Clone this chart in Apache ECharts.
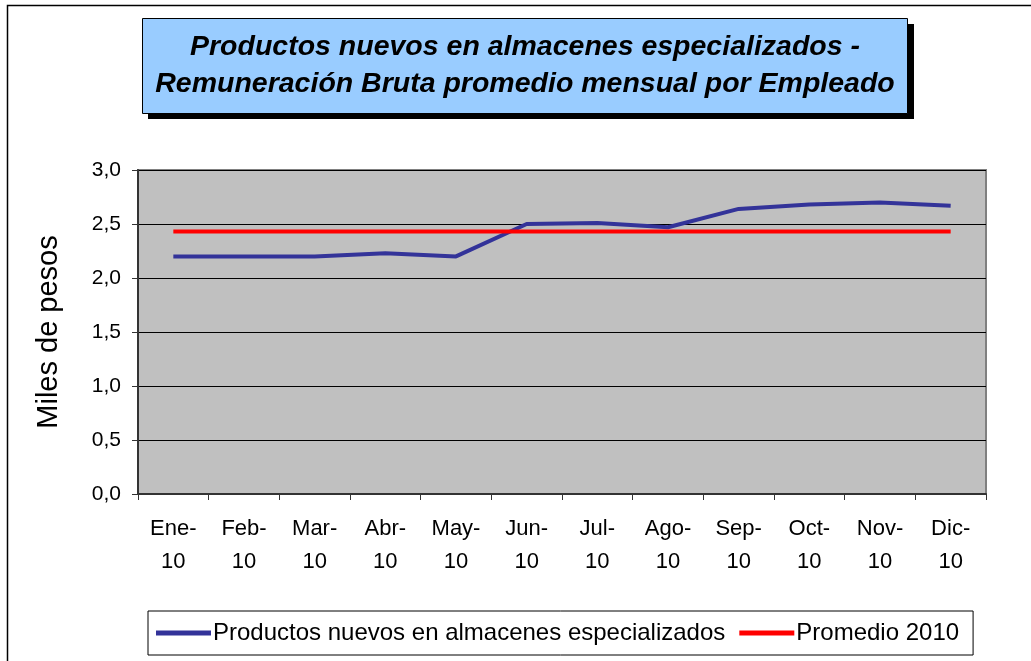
<!DOCTYPE html>
<html>
<head>
<meta charset="utf-8">
<script src="https://cdn.jsdelivr.net/npm/echarts@6/dist/echarts.min.js"></script>
<style>
  html, body { margin: 0; padding: 0; background: #fff; overflow: hidden; }
  #chart { width: 1031px; height: 661px; }
</style>
</head>
<body>
<div id="chart"></div>
<script>
// month labels (two lines, as in the original sheet)
const months = ['Ene-\n10', 'Feb-\n10', 'Mar-\n10', 'Abr-\n10', 'May-\n10', 'Jun-\n10',
  'Jul-\n10', 'Ago-\n10', 'Sep-\n10', 'Oct-\n10', 'Nov-\n10', 'Dic-\n10'];

// miles de pesos
const remuneracion = [2.20, 2.20, 2.20, 2.23, 2.20, 2.50, 2.51, 2.47, 2.64, 2.68, 2.70, 2.67];
const promedio2010 = [2.43, 2.43, 2.43, 2.43, 2.43, 2.43, 2.43, 2.43, 2.43, 2.43, 2.43, 2.43];

const seriesNames = ['Productos nuevos en almacenes especializados', 'Promedio 2010'];
const titleLines = ['Productos nuevos en almacenes especializados -',
  'Remuneración Bruta promedio mensual por Empleado'];

const font = '"Liberation Sans", Arial, sans-serif';
const chart = echarts.init(document.getElementById('chart'));

const option = {
  backgroundColor: '#fff',
  animation: false,
  textStyle: { fontFamily: font },
  graphic: [
    // outer frame: only its top and left edges fall inside the picture
    { type: 'polyline', shape: { points: [[7.5, 661], [7.5, 5.5], [1031, 5.5]] },
      style: { fill: 'none', stroke: '#000', lineWidth: 1.5 }, silent: true },
    // title shadow + box
    { type: 'rect', shape: { x: 148, y: 24, width: 766, height: 95 },
      style: { fill: '#000' }, silent: true },
    { type: 'rect', shape: { x: 142.5, y: 18.5, width: 765, height: 95 },
      style: { fill: '#99CCFF', stroke: '#000', lineWidth: 1 }, silent: true },
    { type: 'text', x: 525, y: 66, silent: true,
      style: { text: titleLines.join('\n'), align: 'center', verticalAlign: 'middle',
        font: 'italic bold 28.5px ' + font, lineHeight: 37, fill: '#000' } }
  ],
  grid: {
    left: 138, top: 170, right: 45, bottom: 167,
    show: true, backgroundColor: '#C0C0C0', borderColor: '#808080', borderWidth: 2
  },
  legend: {
    left: 148, top: 611,
    data: seriesNames.map(n => ({ name: n, icon: 'rect' })),
    backgroundColor: '#fff',
    borderColor: '#000', borderWidth: 1,
    padding: [10, 14, 10, 8],
    itemWidth: 55, itemHeight: 5, itemGap: 14,
    textStyle: { fontSize: 24, color: '#000', fontFamily: font, padding: [0, 0, 0, -3] }
  },
  xAxis: {
    type: 'category',
    data: months,
    boundaryGap: true,
    axisLine: { lineStyle: { color: '#333', width: 2 } },
    axisTick: { show: true, length: 6, lineStyle: { color: '#333' } },
    axisLabel: { fontSize: 22, color: '#000', lineHeight: 33, margin: 18, interval: 0 },
    splitLine: { show: false }
  },
  yAxis: {
    type: 'value',
    min: 0, max: 3, interval: 0.5,
    name: 'Miles de pesos',
    nameLocation: 'middle',
    nameGap: 75,
    nameTextStyle: { fontSize: 29, color: '#000' },
    axisLine: { show: true, lineStyle: { color: '#333', width: 2 } },
    axisTick: { show: true, length: 6, lineStyle: { color: '#333' } },
    axisLabel: { fontSize: 21, color: '#000', margin: 17,
      formatter: v => v.toFixed(1).replace('.', ',') },
    splitLine: { lineStyle: { color: '#000', width: 1 } }
  },
  series: [
    { name: seriesNames[0], type: 'line', data: remuneracion, symbol: 'none',
      lineStyle: { color: '#333399', width: 4 }, itemStyle: { color: '#333399' } },
    { name: seriesNames[1], type: 'line', data: promedio2010, symbol: 'none',
      lineStyle: { color: '#FF0000', width: 4 }, itemStyle: { color: '#FF0000' } }
  ]
};

chart.setOption(option);
</script>
</body>
</html>
